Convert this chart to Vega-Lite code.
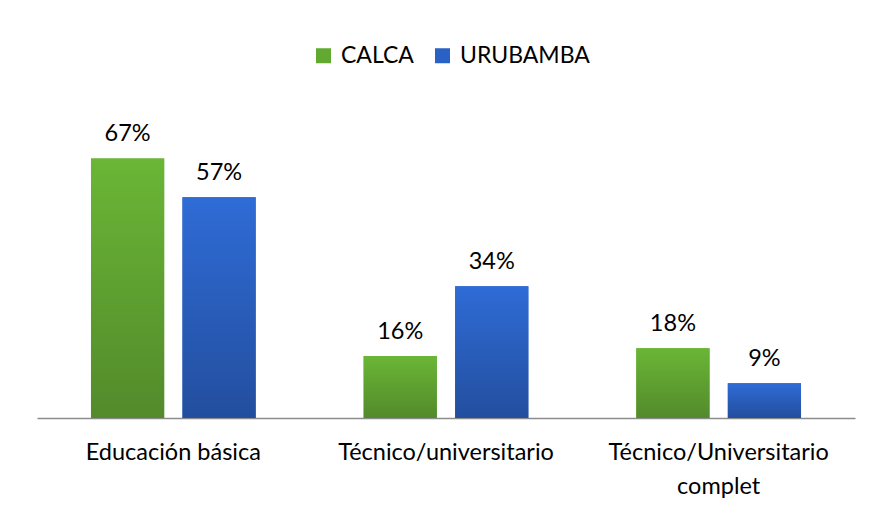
{
  "$schema": "https://vega.github.io/schema/vega-lite/v6.json",
  "autosize": "none",
  "width": 818,
  "height": 310,
  "padding": {"left": 37, "top": 108, "right": 15, "bottom": 90},
  "background": "white",
  "data": {
    "values": [
      {"cat": "Educación básica", "serie": "CALCA", "valor": 0.67},
      {"cat": "Educación básica", "serie": "URUBAMBA", "valor": 0.57},
      {"cat": "Técnico/universitario", "serie": "CALCA", "valor": 0.16},
      {"cat": "Técnico/universitario", "serie": "URUBAMBA", "valor": 0.34},
      {"cat": "Técnico/Universitario complet", "serie": "CALCA", "valor": 0.18},
      {"cat": "Técnico/Universitario complet", "serie": "URUBAMBA", "valor": 0.09}
    ]
  },
  "encoding": {
    "x": {
      "field": "cat", "type": "nominal",
      "sort": ["Educación básica", "Técnico/universitario", "Técnico/Universitario complet"],
      "scale": {"paddingInner": 0, "paddingOuter": 0},
      "axis": {
        "title": null, "labelAngle": 0, "ticks": false, "domainColor": "#8c8c8c", "domainWidth": 1.5,
        "labelFont": "Lato", "labelFontSize": 23.5, "labelColor": "#000000", "labelPadding": 22,
        "labelLineHeight": 34, "labelBaseline": "top", "labelLimit": 0,
        "labelExpr": "datum.label == 'Técnico/Universitario complet' ? ['Técnico/Universitario', 'complet'] : datum.label"
      }
    },
    "xOffset": {"field": "serie", "type": "nominal", "scale": {"paddingInner": 0.2, "paddingOuter": 0.59}},
    "y": {"field": "valor", "type": "quantitative", "scale": {"domain": [0, 0.8], "nice": false}, "axis": null}
  },
  "layer": [
    {
      "mark": {"type": "bar"},
      "encoding": {
        "color": {
          "field": "serie", "type": "nominal",
          "scale": {"domain": ["CALCA", "URUBAMBA"], "range": ["#62a932", "#2a61c4"]},
          "legend": {
            "title": null, "orient": "none", "direction": "horizontal", "legendX": 275, "legendY": -64,
            "symbolType": "square", "symbolSize": 225, "symbolStrokeWidth": 0,
            "labelFont": "Lato", "labelFontSize": 23, "labelColor": "#000000", "labelOffset": 6,
            "columnPadding": 17
          }
        }
      }
    },
    {
      "mark": {"type": "bar"},
      "encoding": {
        "fill": {
          "condition": {
            "test": "datum.serie == 'CALCA'",
            "value": {"gradient": "linear", "x1": 0, "y1": 0, "x2": 0, "y2": 1,
              "stops": [{"offset": 0, "color": "#6ab636"}, {"offset": 1, "color": "#538a2b"}]}
          },
          "value": {"gradient": "linear", "x1": 0, "y1": 0, "x2": 0, "y2": 1,
            "stops": [{"offset": 0, "color": "#2f6cd6"}, {"offset": 1, "color": "#234e9e"}]}
        }
      }
    },
    {
      "mark": {"type": "text", "font": "Lato", "fontSize": 23.5, "color": "#000000", "baseline": "alphabetic", "dy": -17},
      "encoding": {
        "text": {"field": "valor", "type": "quantitative", "format": ".0%"},
        "detail": {"field": "serie"}
      }
    }
  ],
  "config": {"view": {"stroke": null}}
}
